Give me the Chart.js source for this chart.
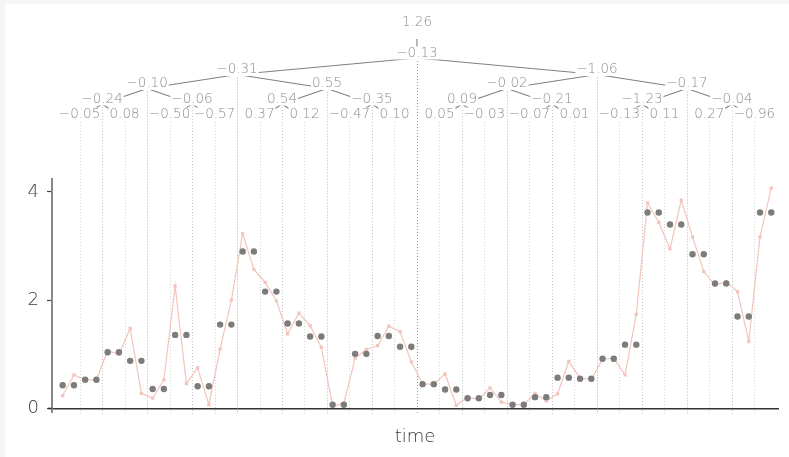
<!DOCTYPE html>
<html>
<head>
<meta charset="utf-8">
<script src="https://cdn.jsdelivr.net/npm/chart.js@4.4.0/dist/chart.umd.min.js"></script>
<style>
  html, body { margin: 0; padding: 0; background: #fff; }
  canvas { display: block; }
</style>
</head>
<body>
<canvas id="myChart" width="789" height="457"></canvas>
<script>
// raw samples, 64 time steps
const rawValues = [0.24, 0.62, 0.53, 0.53, 1.07, 1.00, 1.48, 0.28, 0.19, 0.53, 2.26, 0.46, 0.75, 0.07, 1.10, 2.00,
                   3.23, 2.57, 2.33, 1.99, 1.38, 1.76, 1.53, 1.13, 0.05, 0.09, 0.93, 1.09, 1.16, 1.52, 1.42, 0.86,
                   0.45, 0.45, 0.64, 0.06, 0.21, 0.17, 0.38, 0.12, 0.07, 0.07, 0.28, 0.14, 0.27, 0.87, 0.56, 0.54,
                   0.91, 0.93, 0.62, 1.74, 3.80, 3.44, 2.95, 3.85, 3.17, 2.53, 2.28, 2.34, 2.16, 1.24, 3.17, 4.07];

// pairwise means (one per two samples)
const pairMeans = [0.43, 0.53, 1.04, 0.88, 0.36, 1.36, 0.41, 1.55, 2.90, 2.16, 1.57, 1.33, 0.07, 1.01, 1.34, 1.14,
                   0.45, 0.35, 0.19, 0.25, 0.07, 0.21, 0.57, 0.55, 0.92, 1.18, 3.62, 3.40, 2.85, 2.31, 1.70, 3.62];

// haar tree: overall mean, then detail coefficients coarse -> fine
const treeMean = 1.26;
const detail6 = [-0.13];
const detail5 = [-0.31, -1.06];
const detail4 = [-0.10, 0.55, -0.02, -0.17];
const detail3 = [-0.24, -0.06, 0.54, -0.35, 0.09, -0.21, -1.23, -0.04];
const detail2 = [-0.05, 0.08, -0.50, -0.57, 0.37, 0.12, -0.47, 0.10, 0.05, -0.03, -0.07, 0.01, -0.13, 0.11, 0.27, -0.96];

const yTicks = [0, 2, 4];
const xTitle = 'time';

const FONT = '"DejaVu Sans", sans-serif';
Chart.defaults.font.family = FONT;

const treeRows = [detail6, detail5, detail4, detail3, detail2];
const rowY = [53, 69.5, 83.5, 99, 114];
const lineColors = ['#9a9a9a', '#a8a8a8', '#b6b6b6', '#c4c4c4', '#d4d4d4'];

function fmt(v) {
  return v.toFixed(2).replace('-', '\u2212');
}

// sample position of the split that a tree node stands for
function splitAt(n, j) {
  const span = 32 / n;
  return 2 * (j * span + span / 2) - 0.5;
}

const rawPoints = rawValues.map((v, i) => ({ x: i, y: v }));
const meanPoints = [];
pairMeans.forEach((v, k) => {
  meanPoints.push({ x: 2 * k, y: v });
  meanPoints.push({ x: 2 * k + 1, y: v });
});

// thin grey strip along top and left edge
const pageFrame = {
  id: 'pageFrame',
  beforeDraw(chart) {
    const c = chart.ctx;
    c.save();
    c.fillStyle = '#f6f6f6';
    c.fillRect(0, 0, chart.width, 4);
    c.fillRect(0, 0, 5, chart.height);
    c.restore();
  }
};

// dotted split lines behind the data
const splitLines = {
  id: 'splitLines',
  beforeDatasetsDraw(chart) {
    const c = chart.ctx, xs = chart.scales.x, area = chart.chartArea;
    c.save();
    // axis stubs past the corner
    c.fillStyle = '#888';
    c.fillRect(area.left - 1, area.bottom, 2, 4.5);
    c.fillStyle = '#333';
    c.fillRect(area.left - 4, area.bottom - 0.75, 4, 1.5);
    c.lineWidth = 1;
    c.setLineDash([1, 2]);
    for (let k = 0; k < 31; k++) {
      const m = k + 1;
      let row = 4;
      if (m === 16) row = 0;
      else if (m % 8 === 0) row = 1;
      else if (m % 4 === 0) row = 2;
      else if (m % 2 === 0) row = 3;
      const x = Math.round(xs.getPixelForValue(2 * k + 1.5)) + 0.5;
      c.strokeStyle = lineColors[row];
      c.beginPath();
      c.moveTo(x, rowY[row] + 8);
      c.lineTo(x, 414);
      c.stroke();
    }
    c.restore();
  }
};

// coefficient tree above the plot
const haarTree = {
  id: 'haarTree',
  afterDraw(chart) {
    const c = chart.ctx, xs = chart.scales.x;
    c.save();
    c.strokeStyle = '#808080';
    c.lineWidth = 1.1;
    // mean -> first detail
    const rootX = xs.getPixelForValue(splitAt(1, 0));
    c.beginPath();
    c.moveTo(rootX, 39);
    c.lineTo(rootX, 48);
    c.stroke();
    for (let r = 0; r < treeRows.length - 1; r++) {
      const n = treeRows[r].length;
      for (let j = 0; j < n; j++) {
        const px = xs.getPixelForValue(splitAt(n, j));
        for (let h = 0; h < 2; h++) {
          const cx = xs.getPixelForValue(splitAt(n * 2, j * 2 + h));
          c.beginPath();
          c.moveTo(px, rowY[r] + 5);
          c.lineTo(cx, rowY[r + 1] + 5);
          c.stroke();
        }
      }
    }
    c.font = '300 13.5px ' + FONT;
    c.textAlign = 'center';
    c.textBaseline = 'middle';
    const label = (text, x, y) => {
      const w = c.measureText(text).width;
      c.fillStyle = '#fff';
      c.fillRect(x - w / 2 - 1, y - 6.5, w + 2, 13);
      c.fillStyle = '#8c8c8c';
      c.fillText(text, x, y);
    };
    label(fmt(treeMean), rootX, 22);
    treeRows.forEach((row, r) => {
      row.forEach((v, j) => label(fmt(v), xs.getPixelForValue(splitAt(row.length, j)), rowY[r]));
    });
    c.restore();
  }
};

const ctx = document.getElementById('myChart');
const myChart = new Chart(ctx, {
  type: 'line',
  data: {
    datasets: [
      {
        label: 'pair means',
        data: meanPoints,
        showLine: false,
        pointRadius: 3.2,
        pointBorderWidth: 0,
        pointBackgroundColor: '#7c7c7c',
        order: 0
      },
      {
        label: 'samples',
        data: rawPoints,
        borderColor: '#f3c4bb',
        borderWidth: 1.2,
        pointStyle: 'rect',
        pointRadius: 2.3,
        pointBorderWidth: 0,
        pointBackgroundColor: '#f3c4bb',
        tension: 0,
        order: 1
      }
    ]
  },
  options: {
    responsive: false,
    animation: false,
    devicePixelRatio: 1,
    layout: { padding: { top: 179, right: 11, bottom: 9, left: 0 } },
    plugins: { legend: { display: false }, tooltip: { enabled: false } },
    scales: {
      x: {
        type: 'linear',
        min: -0.95,
        max: 63.6,
        grid: { display: false, drawTicks: false },
        ticks: { display: false },
        border: { color: '#333', width: 1.5 },
        title: {
          display: true,
          text: xTitle,
          color: '#3a3a3a',
          font: { size: 18, weight: 300 },
          padding: { top: 0, bottom: 0 }
        },
        afterFit(axis) { axis.height = 39.5; }
      },
      y: {
        min: 0,
        max: 4.24,
        afterBuildTicks(axis) { axis.ticks = yTicks.map(v => ({ value: v })); },
        grid: { drawOnChartArea: false, tickLength: 5, color: '#444', tickWidth: 1.2 },
        border: { color: '#888', width: 2 },
        ticks: { color: '#3a3a3a', padding: 8, font: { size: 18, weight: 300 } },
        afterFit(axis) { axis.width = 52; }
      }
    }
  },
  plugins: [pageFrame, splitLines, haarTree]
});
</script>
</body>
</html>
